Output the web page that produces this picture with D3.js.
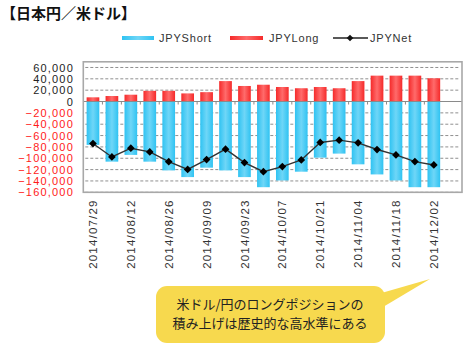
<!DOCTYPE html>
<html>
<head>
<meta charset="utf-8">
<script src="https://cdn.jsdelivr.net/npm/d3@7"></script>
<style>
  body { margin: 0; background: #fff; }
  svg { display: block; font-family: "Liberation Sans", Arial, sans-serif; }
  .jp { font-family: "Noto Sans CJK JP", sans-serif; }
</style>
</head>
<body>
<svg id="chart" width="469" height="350"></svg>
<script>
// weekly positions, yen vs dollar
const dates = ["2014/07/29", "2014/08/05", "2014/08/12", "2014/08/19", "2014/08/26",
  "2014/09/02", "2014/09/09", "2014/09/16", "2014/09/23", "2014/09/30", "2014/10/07",
  "2014/10/14", "2014/10/21", "2014/10/28", "2014/11/04", "2014/11/11", "2014/11/18",
  "2014/11/25", "2014/12/02"];
const jpyShort = [-76400, -106000, -94100, -106000, -121400, -133200, -116600, -121400,
  -133200, -151000, -139100, -123700, -98900, -91800, -110700, -128500, -139100, -151000, -151000];
const jpyLong = [7400, 9700, 12000, 18800, 18800, 14300, 16500, 36000, 27400, 29600,
  25600, 23400, 25600, 23400, 36000, 45600, 45600, 45600, 41000];
const jpyNet = [-74000, -97700, -82300, -88800, -106000, -119600, -102400, -84000, -107600,
  -123600, -114700, -102900, -72200, -68100, -72800, -84600, -94100, -105900, -111800];
const yTicks = d3.range(-160000, 60001, 20000);
const xLabels = dates.filter((d, i) => i % 2 === 0);

const svg = d3.select("#chart");

const frame = { left: 83.3, right: 462, top: 61.8, bottom: 192.3 };

const x = d3.scaleBand()
  .domain(dates)
  .range([83.5, 443.3])
  .paddingInner(0.33)
  .paddingOuter(0.165);

const y = d3.scaleLinear().domain([-160000, 70000]).range([192.3, 61.8]);

// gradients for the bars
const defs = svg.append("defs");
function grad(id, edge, mid) {
  const g = defs.append("linearGradient").attr("id", id)
    .attr("x1", "0").attr("x2", "1").attr("y1", "0").attr("y2", "0");
  g.append("stop").attr("offset", "0").attr("stop-color", edge);
  g.append("stop").attr("offset", "0.5").attr("stop-color", mid);
  g.append("stop").attr("offset", "1").attr("stop-color", edge);
}
grad("gBlue", "#2fc3f2", "#6fd6f7");
grad("gRed", "#f52a2a", "#ff6b6b");

// title
svg.append("text")
  .attr("class", "jp")
  .attr("x", 1)
  .attr("y", 19)
  .style("font-size", "15px")
  .style("font-weight", "bold")
  .attr("fill", "#111")
  .text("【日本円／米ドル】");

// legend
const lg = svg.append("g").style("font-size", "11px").style("letter-spacing", "0.8px").attr("fill", "#333");
lg.append("rect").attr("x", 122).attr("y", 36).attr("width", 32).attr("height", 4).attr("fill", "url(#gBlue)");
lg.append("text").attr("x", 159).attr("y", 38).attr("dy", "0.35em").text("JPYShort");
lg.append("rect").attr("x", 230).attr("y", 36).attr("width", 33).attr("height", 4).attr("fill", "url(#gRed)");
lg.append("text").attr("x", 269).attr("y", 38).attr("dy", "0.35em").text("JPYLong");
lg.append("line").attr("x1", 333).attr("x2", 368).attr("y1", 38).attr("y2", 38)
  .attr("stroke", "#222").attr("stroke-width", 1.3);
lg.append("path").attr("d", d3.symbol(d3.symbolSquare, 22)())
  .attr("transform", "translate(350,38) rotate(45)").attr("fill", "#111");
lg.append("text").attr("x", 370).attr("y", 38).attr("dy", "0.35em").text("JPYNet");

// grid
svg.append("g")
  .selectAll("line")
  .data(yTicks.filter((d) => d !== 0))
  .join("line")
  .attr("x1", frame.left + 2)
  .attr("x2", frame.right - 2)
  .attr("y1", (d) => y(d))
  .attr("y2", (d) => y(d))
  .attr("stroke", "#8f8f8f")
  .attr("stroke-width", 1)
  .attr("stroke-dasharray", "3,2");

// bars
svg.append("g")
  .selectAll("rect")
  .data(dates)
  .join("rect")
  .attr("x", (d) => x(d))
  .attr("width", x.bandwidth())
  .attr("y", (d, i) => y(0))
  .attr("height", (d, i) => y(jpyShort[i]) - y(0))
  .attr("fill", "url(#gBlue)");

svg.append("g")
  .selectAll("rect")
  .data(dates)
  .join("rect")
  .attr("x", (d) => x(d))
  .attr("width", x.bandwidth())
  .attr("y", (d, i) => y(jpyLong[i]))
  .attr("height", (d, i) => y(0) - y(jpyLong[i]))
  .attr("fill", "url(#gRed)");

// zero line with category ticks
svg.append("line")
  .attr("x1", frame.left).attr("x2", frame.right)
  .attr("y1", y(0)).attr("y2", y(0))
  .attr("stroke", "#8a8a8a").attr("stroke-width", 1.2);
svg.append("g")
  .selectAll("line")
  .data(dates)
  .join("line")
  .attr("x1", (d) => x(d) - (x.step() - x.bandwidth()) / 2)
  .attr("x2", (d) => x(d) - (x.step() - x.bandwidth()) / 2)
  .attr("y1", y(0)).attr("y2", y(0) + 3)
  .attr("stroke", "#8a8a8a");

// frame
svg.append("rect")
  .attr("x", frame.left).attr("y", frame.top)
  .attr("width", frame.right - frame.left).attr("height", frame.bottom - frame.top)
  .attr("fill", "none").attr("stroke", "#a8a8a8").attr("stroke-width", 1.6);

// net line
const cx = (d) => x(d) + x.bandwidth() / 2;
svg.append("path")
  .datum(dates)
  .attr("fill", "none")
  .attr("stroke", "#333")
  .attr("stroke-width", 1.4)
  .attr("d", d3.line().x((d) => cx(d)).y((d, i) => y(jpyNet[i])));

svg.append("g")
  .selectAll("path")
  .data(dates)
  .join("path")
  .attr("d", d3.symbol(d3.symbolSquare, 30)())
  .attr("transform", (d, i) => `translate(${cx(d)},${y(jpyNet[i])}) rotate(45)`)
  .attr("fill", "#000");

// y axis labels
const yAxis = svg.append("g")
  .attr("transform", "translate(74,0)")
  .call(d3.axisLeft(y).tickValues(yTicks).tickSize(0).tickPadding(0).tickFormat(d3.format(",")));
yAxis.select(".domain").remove();
yAxis.selectAll("text")
  .style("font-size", "11px")
  .style("letter-spacing", "1.2px")
  .attr("font-family", null)
  .attr("fill", (d) => (d < 0 ? "#ff1a1a" : "#222"));

// x axis labels
const xAxis = svg.append("g")
  .attr("transform", `translate(0,${frame.bottom})`)
  .call(d3.axisBottom(x).tickValues(xLabels).tickSize(0).tickPadding(0));
xAxis.select(".domain").remove();
xAxis.selectAll("text")
  .style("font-size", "11.5px")
  .style("letter-spacing", "1.2px")
  .attr("font-family", null)
  .attr("fill", "#333")
  .attr("text-anchor", "end")
  .attr("transform", "rotate(-90)")
  .attr("x", -7)
  .attr("y", 0)
  .attr("dy", "0.36em");

// callout
const bubble = svg.append("g");
const bx0 = 156, bx1 = 385, by0 = 286, by1 = 343, r = 11;
bubble.append("rect")
  .attr("x", bx0).attr("y", by0).attr("width", bx1 - bx0).attr("height", by1 - by0)
  .attr("rx", r).attr("fill", "#f7d94e");
bubble.append("path")
  .attr("d", "M378,294 L430,279 L378,310 Z")
  .attr("fill", "#f7d94e");
bubble.append("text").attr("class", "jp")
  .attr("x", 270).attr("y", 304).attr("dy", "0.35em")
  .attr("text-anchor", "middle").style("font-size", "13px").attr("fill", "#222")
  .text("米ドル/円のロングポジションの");
bubble.append("text").attr("class", "jp")
  .attr("x", 270).attr("y", 323).attr("dy", "0.35em")
  .attr("text-anchor", "middle").style("font-size", "13px").attr("fill", "#222")
  .text("積み上げは歴史的な高水準にある");
</script>
</body>
</html>
